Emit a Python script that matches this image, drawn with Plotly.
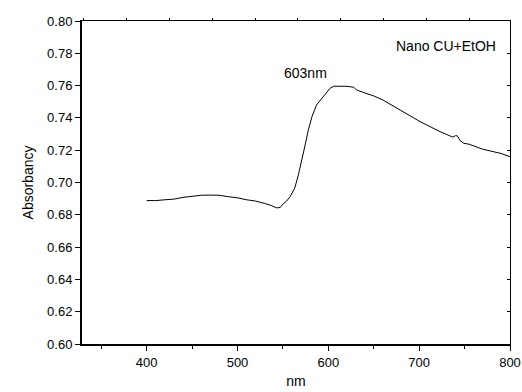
import plotly.graph_objects as go

# Wavelength (nm) and absorbance values
wavelength = [400, 410, 420, 430, 440, 450, 460, 470, 480, 490, 500, 510, 520, 530,
              536, 543, 547, 550.5, 554, 558, 563, 567, 571, 574.5, 578, 582, 587,
              595, 602, 606, 613, 620, 628, 631, 640, 650, 660, 670, 679, 690, 701,
              712, 723, 730, 737, 740, 742, 745, 749, 755, 760, 770, 780, 790, 800]
absorbance = [0.6888, 0.6888, 0.6893, 0.6897, 0.6908, 0.6915, 0.6921, 0.6922, 0.6921,
              0.6912, 0.6905, 0.6893, 0.6885, 0.6870, 0.6860, 0.6843, 0.6845, 0.6870,
              0.6885, 0.6913, 0.6965, 0.7047, 0.7140, 0.7233, 0.7326, 0.7408, 0.7480,
              0.7538, 0.7584, 0.7596, 0.7598, 0.7596, 0.7590, 0.7573, 0.7555, 0.7536,
              0.7511, 0.7480, 0.7449, 0.7413, 0.7377, 0.7345, 0.7315, 0.7298, 0.7281,
              0.7290, 0.7289, 0.7260, 0.7243, 0.7237, 0.7227, 0.7206, 0.7193, 0.7180,
              0.7160]

x_ticks = [400, 500, 600, 700, 800]
y_ticks = [0.60, 0.62, 0.64, 0.66, 0.68, 0.70, 0.72, 0.74, 0.76, 0.78, 0.80]
y_tick_labels = [f"{v:.2f}" for v in y_ticks]

FONT = "Liberation Sans, Arial, sans-serif"

fig = go.Figure()
fig.add_trace(go.Scatter(x=wavelength, y=absorbance, mode="lines",
                         line=dict(color="black", width=1), showlegend=False))
# invisible trace to activate secondary axes
fig.add_trace(go.Scatter(x=[0], y=[0.7], xaxis="x2", yaxis="y2", mode="markers",
                         marker=dict(opacity=0), showlegend=False, hoverinfo="skip"))

fig.update_layout(
    width=522, height=392,
    margin=dict(l=82, r=12, t=21, b=48),
    paper_bgcolor="white", plot_bgcolor="white",
    font=dict(family=FONT, size=13, color="black"),
    xaxis=dict(range=[328.8, 800], tickvals=x_ticks, ticks="outside", ticklen=5,
               tickwidth=1, tickcolor="black", showline=True, linewidth=2,
               linecolor="black", showgrid=False, zeroline=False, automargin=False,
               minor=dict(ticks="outside", ticklen=3, tickwidth=1, tickcolor="black",
                          dtick=50, tick0=350, showgrid=False),
               title=dict(text="nm", font=dict(size=14), standoff=8)),
    yaxis=dict(range=[0.60, 0.80], tickvals=y_ticks, ticktext=y_tick_labels,
               ticks="outside", ticklen=5, tickwidth=1, tickcolor="black",
               showline=True, linewidth=2, linecolor="black", showgrid=False,
               zeroline=False, automargin=False,
               title=dict(text="Absorbancy", font=dict(size=14), standoff=10)),
    xaxis2=dict(overlaying="x", side="top", range=[0, 428], tick0=44.7, dtick=42.8,
                ticks="outside", ticklen=2, tickcolor="black", showticklabels=False,
                showline=True, linewidth=1, linecolor="black", showgrid=False,
                zeroline=False, automargin=False),
    yaxis2=dict(overlaying="y", side="right", range=[0.60, 0.80], tickvals=y_ticks,
                ticks="inside", ticklen=3, tickcolor="black", showticklabels=False,
                showline=True, linewidth=1, linecolor="black", showgrid=False,
                zeroline=False, automargin=False),
    annotations=[
        dict(x=574.4, y=0.7678, xref="x", yref="y", text="603nm", showarrow=False,
             font=dict(size=14)),
        dict(x=729.7, y=0.7845, xref="x", yref="y", text="Nano CU+EtOH",
             showarrow=False, font=dict(size=14)),
    ],
)

fig.write_html("out.html",
               config={"displayModeBar": False},
               post_script="document.body.style.margin='0';"
                           "document.body.style.overflow='hidden';")
